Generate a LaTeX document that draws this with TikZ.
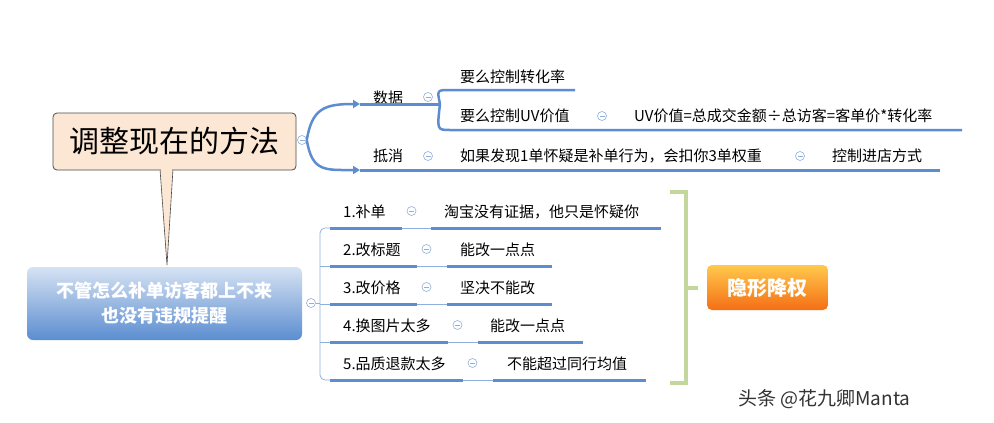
\documentclass[tikz,border=0pt]{standalone}
\usepackage{fontspec}
\setmainfont{Noto Sans CJK SC}
\usetikzlibrary{arrows.meta}
\definecolor{lb}{HTML}{5B8DD0}
\definecolor{thinb}{HTML}{8FB0DC}
\definecolor{gr}{HTML}{C3D69B}
\tikzset{
 txt/.style={anchor=west,inner sep=0pt,font=\fontsize{15}{17}\selectfont},
 ulx/.style={line width=3pt,lb},
 tlx/.style={line width=0.8pt,thinb},
 minusc/.style={circle,draw=thinb,line width=0.6pt,minimum size=9pt,inner sep=0pt,
   path picture={\draw[thinb,line width=0.6pt] ([xshift=-2.5pt]path picture bounding box.center)--([xshift=2.5pt]path picture bounding box.center);}},
}
\begin{document}
\begin{tikzpicture}[x=1pt,y=-1pt]
\useasboundingbox (0,0) rectangle (994,423);
\fill[white] (0,0) rectangle (994,423);
% callout
\fill[fill={rgb,255:red,252;green,230;blue,212},draw=black!70,line width=0.6pt] (160,169)--(167,265)--(173,169)--cycle;
\node[draw=black!70,fill={rgb,255:red,252;green,230;blue,212},rounded corners=4pt,line width=0.8pt,minimum width=243pt,minimum height=57pt,font=\fontsize{30}{32}\selectfont] (main) at (174.5,141.5) {调整现在的方法};
\fill[fill={rgb,255:red,252;green,230;blue,212}] (161,168) rectangle (172,171);
\node[rounded corners=6pt,top color=lb!25!white,bottom color=lb,minimum width=275pt,minimum height=73pt,text=white,align=center,font=\bfseries\fontsize{18}{25}\selectfont] (q) at (164.5,303.5) {不管怎么补单访客都上不来\\也没有违规提醒};
% top branches
\node[minusc] (c0) at (302,140) {};
\coordinate (d0) at (360,104);
\coordinate (x0) at (360,170);
\draw[lb,line width=2.5pt,-{Triangle[length=7pt,width=8pt]}] (c0.east) .. controls (312,108) and (325,104) .. (d0);
\draw[lb,line width=2.5pt,-{Triangle[length=7pt,width=8pt]}] (c0.east) .. controls (312,172) and (325,170) .. (x0);
\node[txt] (shuju) at (373,98) {数据};
\node[minusc] (c1) at (428,97) {};
\draw[ulx] (d0) -- (440,104);
\draw[lb,line width=2.5pt] (440,104) .. controls (437,90) .. (450,90) -- (575,90);
\draw[lb,line width=2.5pt] (440,104) .. controls (437,130) .. (450,130) -- (962,130);
\node[txt] (z1) at (460,77) {要么控制转化率};
\node[txt] (z2) at (460,116) {要么控制UV价值};
\node[minusc] (c2) at (602,116) {};
\node[txt] (uv) at (634,116) {UV价值=总成交金额÷总访客=客单价*转化率};
\node[txt] (dx) at (373,156) {抵消};
\node[minusc] (c3) at (428,156) {};
\draw[ulx] (x0) -- (940,170);
\node[txt] (r1) at (460,156) {如果发现1单怀疑是补单行为，会扣你3单权重};
\node[minusc] (c4) at (800,156) {};
\node[txt] (r2) at (832,156) {控制进店方式};
% bottom branches
\node[minusc] (cq) at (311,303) {};
\draw[tlx,rounded corners=5pt] (330,228) -- (320,228) -- (320,380) -- (330,380);
\foreach \y in {266,304,342} \draw[tlx,rounded corners=5pt] (330,\y) -- (320,\y);
\draw[tlx] (cq.east) -- (320,303);
\foreach \y/\a/\b/\c/\lab/\ans/\tx in {
 228/402/431/661/1.补单/淘宝没有证据，他只是怀疑你/444,
 266/417/447/552/2.改标题/能改一点点/460,
 304/417/447/552/3.改价格/坚决不能改/460,
 342/448/478/583/4.换图片太多/能改一点点/490,
 380/463/493/646/5.品质退款太多/不能超过同行均值/507}{
 \draw[ulx] (330,\y) -- (\a,\y);
 \draw[tlx] (\a,\y) -- (\b,\y);
 \draw[ulx] (\b,\y) -- (\c,\y);
 \node[txt] at (343,\y-16) {\lab};
 \node[minusc] at (\a+9.5,\y-17) {};
 \node[txt] at (\tx,\y-16) {\ans};
}
% green bracket
\draw[gr,line width=4pt] (670,192) -- (686,192) -- (686,383) -- (670,383);
\draw[gr,line width=4pt] (686,288) -- (698,288);
\node[rounded corners=5pt,top color=orange!60!yellow!70,bottom color={rgb,255:red,245;green,110;blue,20},minimum width=121pt,minimum height=45pt,text=white,font=\bfseries\fontsize{20}{22}\selectfont] (yx) at (767.5,287.5) {隐形降权};
\node[anchor=west,inner sep=0pt,text=black!80,font=\fontsize{19}{22}\selectfont] (wm) at (738,399) {头条 @花九卿Manta};
\end{tikzpicture}
\end{document}
